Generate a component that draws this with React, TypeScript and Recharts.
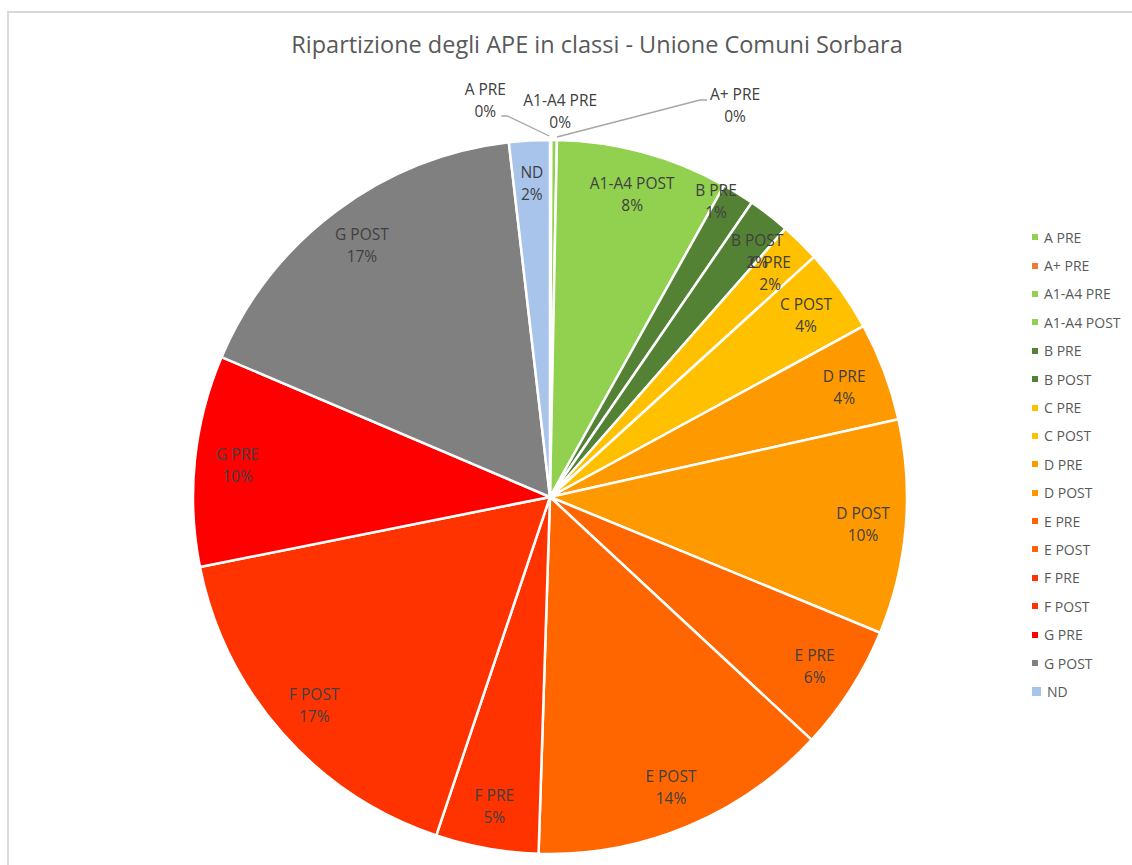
import React from 'react';
import { PieChart, Pie, Cell, Legend } from 'recharts';

const categories = ['A PRE', 'A+ PRE', 'A1-A4 PRE', 'A1-A4 POST', 'B PRE', 'B POST', 'C PRE', 'C POST', 'D PRE', 'D POST', 'E PRE', 'E POST', 'F PRE', 'F POST', 'G PRE', 'G POST', 'ND'];
const shares = [0.03, 0.03, 0.25, 7.8, 1.45, 1.9, 1.8, 3.8, 4.45, 9.7, 5.7, 13.6, 4.65, 16.7, 9.55, 16.75, 1.84];
const colors = ['#92d050', '#ed7d31', '#92d050', '#92d050', '#548235', '#548235', '#ffc000', '#ffc000', '#ff9900', '#ff9900', '#ff6600', '#ff6600', '#ff3300', '#ff3300', '#ff0000', '#808080', '#a9c4eb'];
const title = 'Ripartizione degli APE in classi - Unione Comuni Sorbara';

// outside label placement for near-zero slices (offset of label centre from slice outer point)
const outsideLabels: Record<string, { dx: number; dy: number; side: 'left' | 'right' | 'none' }> = {
  'A PRE': { dx: -65, dy: -38, side: 'left' },
  'A+ PRE': { dx: 184, dy: -33, side: 'right' },
  'A1-A4 PRE': { dx: 6, dy: -27, side: 'none' },
};
// label placement overrides for inside labels: radius factor and angle shift (degrees, clockwise positive)
const labelAdjust: Record<string, { r: number; da: number }> = {
  'B PRE': { r: 0.95, da: -2.5 },
  'B POST': { r: 0.9, da: 2.3 },
};

const data = categories.map((name, i) => ({ name, value: shares[i] }));

const FONT = '"Open Sans", "DejaVu Sans", sans-serif';
const RAD = Math.PI / 180;
const LABEL_SIZE = 15.5;

const renderLabel = (props: any) => {
  const { cx, cy, midAngle, outerRadius, index, percent } = props;
  const name = categories[index];
  const pct = `${Math.round(percent * 100)}%`;
  const out = outsideLabels[name];
  if (out) {
    const ox = cx + (outerRadius + 2) * Math.cos(-midAngle * RAD);
    const oy = cy + (outerRadius + 2) * Math.sin(-midAngle * RAD);
    const lx = ox + out.dx;
    const ly = oy + out.dy;
    let line = null;
    if (out.side === 'left') {
      line = <polyline points={`${lx + 16},${ly + 16} ${lx + 22},${ly + 16} ${ox - 1},${oy - 2}`} fill="none" stroke="#a6a6a6" strokeWidth={1.3} />;
    } else if (out.side === 'right') {
      line = <polyline points={`${lx - 28},${ly - 5} ${lx - 35},${ly - 5} ${ox + 6},${oy - 1}`} fill="none" stroke="#a6a6a6" strokeWidth={1.3} />;
    }
    return (
      <g key={`l-${index}`}>
        {line}
        <text x={lx} y={ly} textAnchor="middle" fill="#404040" fontSize={LABEL_SIZE} fontFamily={FONT}>
          <tspan x={lx} dy={-5}>{name}</tspan>
          <tspan x={lx} dy={22}>{pct}</tspan>
        </text>
      </g>
    );
  }
  const adj = labelAdjust[name] ?? { r: 0.88, da: 0 };
  const r = outerRadius * adj.r;
  const ang = midAngle - adj.da;
  const x = cx + r * Math.cos(-ang * RAD);
  const y = cy + r * Math.sin(-ang * RAD);
  return (
    <text key={`l-${index}`} x={x} y={y} textAnchor="middle" fill="#404040" fontSize={LABEL_SIZE} fontFamily={FONT}>
      <tspan x={x} dy={-5}>{name}</tspan>
      <tspan x={x} dy={22}>{pct}</tspan>
    </text>
  );
};

const LegendContent = () => (
  <div style={{ fontFamily: FONT, fontSize: 14, color: '#595959' }}>
    {categories.map((c, i) => (
      <div key={c} style={{ height: 28.4, display: 'flex', alignItems: 'center', whiteSpace: 'nowrap' }}>
        <span style={{ display: 'inline-block', width: i === categories.length - 1 ? 9 : 6, height: i === categories.length - 1 ? 9 : 6, background: colors[i], marginRight: 6 }} />
        <span>{c}</span>
      </div>
    ))}
  </div>
);

export default function App() {
  return (
    <div style={{ position: 'absolute', left: 0, top: 0, width: 1132, height: 865, overflow: 'hidden', background: '#fff' }}>
      <div style={{ position: 'absolute', left: 7, top: 11, width: 2000, height: 2000, borderTop: '2px solid #d9d9d9', borderLeft: '2px solid #d9d9d9' }} />
      <div style={{ position: 'absolute', left: 0, top: 28, width: 1194, textAlign: 'center', fontFamily: FONT, fontSize: 23.5, color: '#595959', lineHeight: '32px' }}>
        {title}
      </div>
      <div style={{ position: 'absolute', left: 0, top: 0 }}>
        <PieChart width={1132} height={865} margin={{ top: 0, right: 0, bottom: 0, left: 0 }}>
          <Pie
            data={data}
            dataKey="value"
            nameKey="name"
            cx={550}
            cy={497}
            outerRadius={357}
            startAngle={90}
            endAngle={-270}
            stroke="#ffffff"
            strokeWidth={2.5}
            label={renderLabel}
            labelLine={false}
            isAnimationActive={false}
          >
            {data.map((d, i) => (
              <Cell key={d.name} fill={colors[i]} />
            ))}
          </Pie>
          <Legend
            layout="vertical"
            align="right"
            verticalAlign="top"
            content={<LegendContent />}
            wrapperStyle={{ left: 1032, top: 223, width: 100 }}
          />
        </PieChart>
      </div>
    </div>
  );
}
